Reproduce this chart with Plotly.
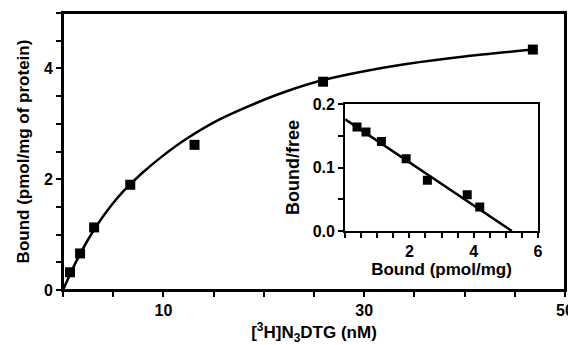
import plotly.graph_objects as go

# ---- main saturation data ----
conc_nM = [0.7, 1.7, 3.1, 6.7, 13.1, 25.9, 46.8]
bound = [0.32, 0.66, 1.13, 1.90, 2.62, 3.76, 4.34]

# fitted curve
curve_x = [0, 1, 2, 3, 4, 5, 6, 7, 8, 10, 12.3, 15.6, 19.3, 22, 25.9, 30, 34.2, 40.2, 46.8]
curve_y = [0, 0.40, 0.75, 1.06, 1.33, 1.57, 1.78, 1.96, 2.13, 2.43, 2.73, 3.08, 3.38, 3.57, 3.79, 3.95, 4.08, 4.22, 4.34]

# ---- inset Scatchard data ----
sc_bound = [0.37, 0.65, 1.13, 1.90, 2.56, 3.80, 4.19]
sc_bf = [0.164, 0.156, 0.141, 0.114, 0.080, 0.057, 0.038]
sc_line_x = [0, 5.19]
sc_line_y = [0.176, 0.0]

# ---- ticks ----
main_xtick_vals = [0, 5, 10, 15, 20, 25, 30, 35, 40, 45, 50]
main_xtick_text = ["", "", "10", "", "", "", "30", "", "", "", "50"]
main_ytick_vals = [0, 0.5, 1, 1.5, 2, 2.5, 3, 3.5, 4, 4.5, 5]
main_ytick_text = ["0", "", "", "", "2", "", "", "", "4", "", ""]
in_xtick_vals = [0, 0.5, 1, 1.5, 2, 2.5, 3, 3.5, 4, 4.5, 5, 5.5, 6]
in_xtick_text = ["", "", "", "", "2", "", "", "", "4", "", "", "", "6"]
in_ytick_vals = [0, 0.05, 0.1, 0.15, 0.2]
in_ytick_text = ["0.0", "", "0.1", "", "0.2"]

FONT = "Arial, Liberation Sans, Helvetica, sans-serif"
TITLE_FONT = dict(family=FONT, size=17, color="black", weight="bold")

fig = go.Figure()
fig.add_trace(go.Scatter(x=curve_x, y=curve_y, mode="lines", line=dict(color="black", width=2.5, shape="spline", smoothing=0.6),
                         xaxis="x", yaxis="y", showlegend=False, hoverinfo="skip"))
fig.add_trace(go.Scatter(x=conc_nM, y=bound, mode="markers", marker=dict(symbol="square", size=10, color="black"),
                         xaxis="x", yaxis="y", showlegend=False))
fig.add_trace(go.Scatter(x=sc_line_x, y=sc_line_y, mode="lines", line=dict(color="black", width=2.5),
                         xaxis="x2", yaxis="y2", showlegend=False, hoverinfo="skip"))
fig.add_trace(go.Scatter(x=sc_bound, y=sc_bf, mode="markers", marker=dict(symbol="square", size=9, color="black"),
                         xaxis="x2", yaxis="y2", showlegend=False))

axis_common = dict(showline=True, linecolor="black", linewidth=2, ticks="outside", ticklen=5, tickwidth=1.5,
                   tickcolor="black", showgrid=False, zeroline=False, automargin=False,
                   tickfont=dict(family=FONT, size=16, color="black", weight="bold"))

fig.update_layout(
    width=568, height=337,
    margin=dict(l=55, r=11, t=5, b=55),
    paper_bgcolor="white", plot_bgcolor="white",
    font=dict(family=FONT, color="black"),
    xaxis=dict(range=[0, 50], tickmode="array", tickvals=main_xtick_vals, ticktext=main_xtick_text,
               mirror=True, domain=[0, 1], anchor="y",
               title=dict(text="[<sup>3</sup>H]N<sub>3</sub>DTG (nM)", font=TITLE_FONT, standoff=13),
               **axis_common),
    yaxis=dict(range=[0, 5], tickmode="array", tickvals=main_ytick_vals, ticktext=main_ytick_text,
               mirror=True, domain=[0, 1], anchor="x",
               title=dict(text="Bound (pmol/mg of protein)", font=TITLE_FONT, standoff=10),
               **axis_common),
    xaxis2=dict(range=[0, 6], tickmode="array", tickvals=in_xtick_vals, ticktext=in_xtick_text,
                mirror=True, domain=[0.562, 0.946], anchor="y2",
                title=dict(text="Bound (pmol/mg)", font=TITLE_FONT, standoff=2),
                **axis_common),
    yaxis2=dict(range=[0, 0.2], tickmode="array", tickvals=in_ytick_vals, ticktext=in_ytick_text,
                mirror=True, domain=[0.213, 0.671], anchor="x2",
                title=dict(text="Bound/free", font=dict(family=FONT, size=18, color="black", weight="bold"), standoff=8),
                **axis_common),
    shapes=[dict(type="rect", xref="x domain", yref="y domain", x0=0, x1=1, y0=0, y1=1,
                 line=dict(color="black", width=2), fillcolor="rgba(0,0,0,0)", layer="above")],
)

fig.write_html("out.html")
